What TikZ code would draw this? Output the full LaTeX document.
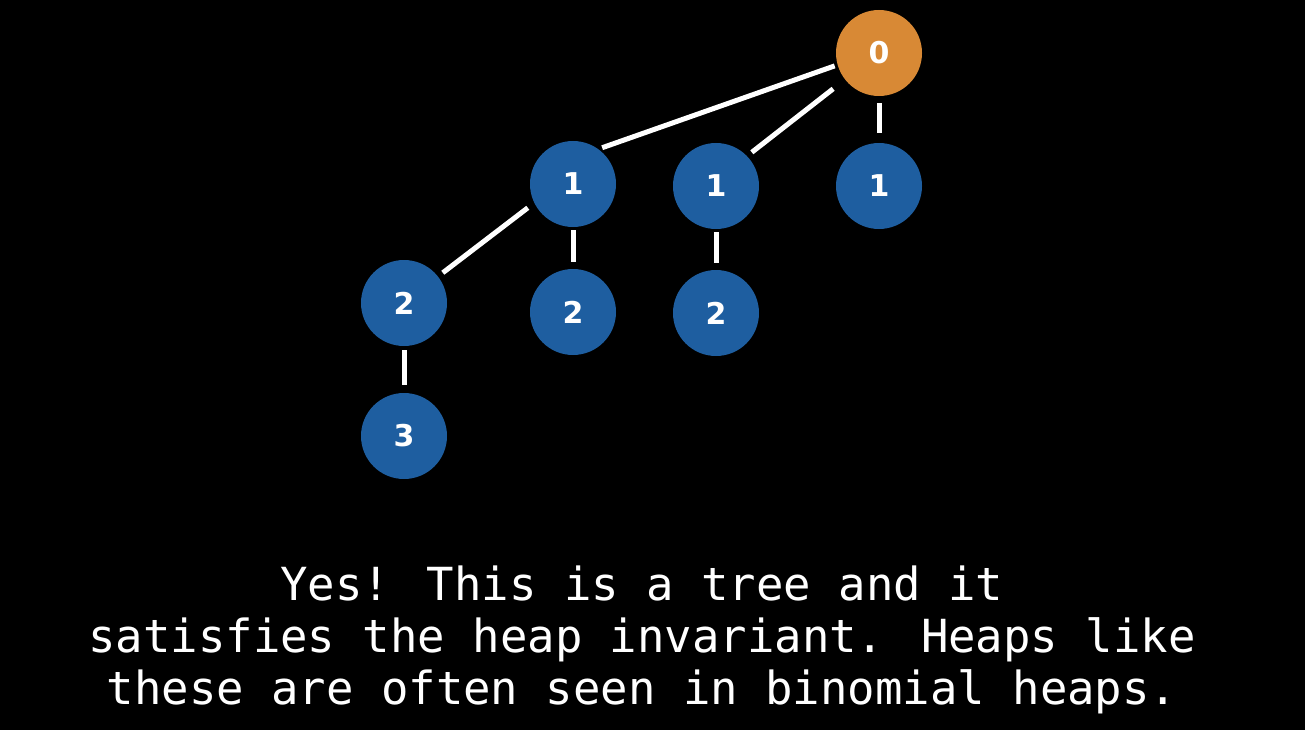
\documentclass[tikz,border=0pt]{standalone}
\usepackage{fontspec}
\newfontfamily\monofont{DejaVu Sans Mono}
\newfontfamily\numfont{DejaVu Sans}
\definecolor{heapblue}{RGB}{30,94,160}
\definecolor{heaporange}{RGB}{216,137,53}
\tikzset{
  hnode/.style={circle, fill=heapblue, minimum size=86pt, inner sep=0pt, text=white, font=\numfont\bfseries\fontsize{30}{30}\selectfont},
  rootnode/.style={hnode, fill=heaporange},
  edge/.style={draw=white, line width=5pt},
  caption/.style={text=white, anchor=base, inner sep=0pt, font=\monofont\fontsize{45.6}{52}\selectfont}
}
\begin{document}
\begin{tikzpicture}[x=1pt,y=-1pt]
\fill[black] (0,0) rectangle (1305,730);
\useasboundingbox (0,0) rectangle (1305,730);
\node[rootnode] (r) at (879,53) {0};
\node[hnode] (a) at (573,184) {1};
\node[hnode] (b) at (716,186) {1};
\node[hnode] (c) at (879,186) {1};
\node[hnode] (a1) at (404,303) {2};
\node[hnode] (a2) at (573,312) {2};
\node[hnode] (b1) at (716,313) {2};
\node[hnode] (a11) at (404,436) {3};
\draw[edge, shorten <=3pt, shorten >=4pt] (r.196) -- (a.54);
\draw[edge, shorten <=15pt, shorten >=6pt] (r.218) -- (b.44);
\draw[edge, shorten <=7pt, shorten >=10pt] (r) -- (c);
\draw[edge, shorten <=8pt, shorten >=6pt] (a.206) -- (a1.38);
\draw[edge, shorten <=3pt, shorten >=7pt] (a) -- (a2);
\draw[edge, shorten <=3pt, shorten >=7pt] (b) -- (b1);
\draw[edge, shorten <=4pt, shorten >=8pt] (a1) -- (a11);
\node[caption] (t1) at (642,600) {Yes! This is a tree and it};
\node[caption] (t2) at (642,652) {satisfies the heap invariant. Heaps like};
\node[caption] (t3) at (642,704) {these are often seen in binomial heaps.};
\end{tikzpicture}
\end{document}
